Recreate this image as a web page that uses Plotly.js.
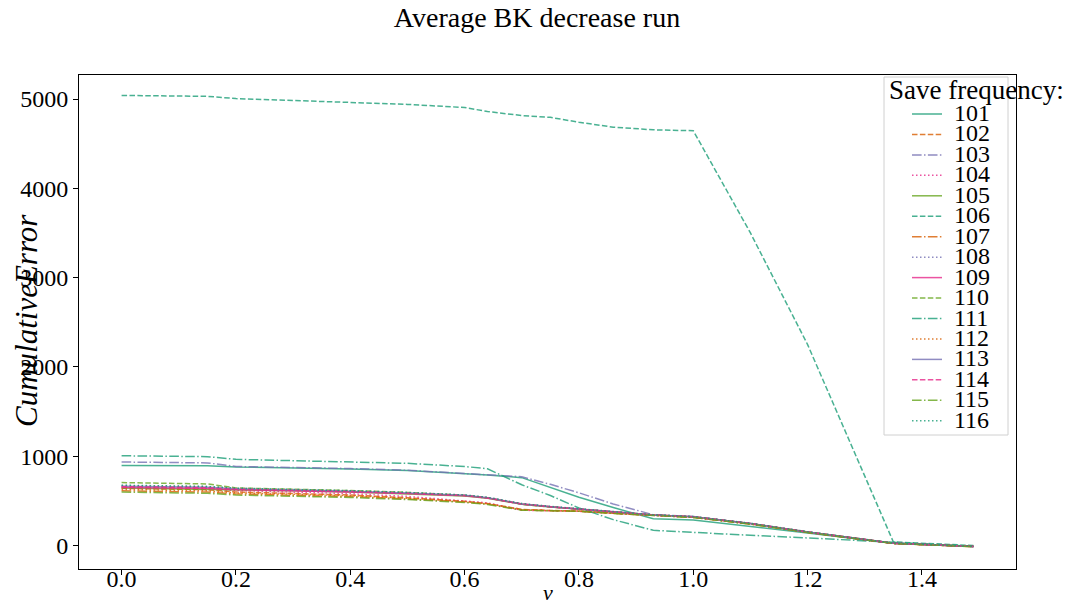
<!DOCTYPE html>
<html>
<head>
<meta charset="utf-8">
<script src="https://cdn.plot.ly/plotly-3.0.1.min.js"></script>
<style>html,body{margin:0;padding:0;background:#fff;}#chart{width:1074px;height:607px;}</style>
</head>
<body>
<div id="chart"></div>
<script>
// ---- data ----
const nu = [0, 0.15, 0.2, 0.3, 0.4, 0.5, 0.6, 0.64, 0.7, 0.75, 0.8, 0.86, 0.93, 1.0, 1.1, 1.2, 1.35, 1.49];
const saveFrequencies = ['101','102','103','104','105','106','107','108','109','110','111','112','113','114','115','116'];
const err101 = [897, 893, 880, 870, 858, 840, 805, 790, 760, 650, 540, 425, 300, 285, 215, 140, 25, -10];
const err102 = [640, 625, 600, 585, 565, 535, 495, 470, 405, 392, 386, 362, 336, 318, 242, 150, 24, -12];
const err103 = [935, 925, 885, 875, 862, 843, 808, 792, 770, 685, 590, 465, 345, 325, 245, 150, 28, -10];
const err104 = [655, 640, 615, 600, 580, 550, 500, 478, 395, 388, 383, 360, 337, 316, 243, 149, 23, -11];
const err105 = [645, 632, 622, 612, 598, 580, 555, 530, 462, 432, 406, 372, 342, 322, 247, 152, 26, -9];
const err106 = [5040, 5030, 5005, 4985, 4965, 4940, 4905, 4860, 4815, 4795, 4740, 4685, 4655, 4645, 3500, 2250, 40, 0];
const err107 = [612, 598, 578, 565, 548, 522, 488, 465, 398, 390, 384, 361, 334, 314, 240, 147, 22, -12];
const err108 = [672, 660, 640, 628, 612, 592, 565, 538, 468, 436, 408, 374, 343, 323, 248, 153, 26, -10];
const err109 = [650, 638, 625, 615, 600, 582, 558, 532, 465, 434, 407, 372, 341, 321, 246, 151, 25, -10];
const err110 = [705, 690, 645, 632, 615, 595, 562, 535, 462, 432, 405, 370, 340, 320, 245, 150, 25, -10];
const err111 = [1005, 995, 965, 950, 935, 920, 885, 860, 680, 560, 420, 290, 170, 145, 115, 85, 35, -10];
const err112 = [628, 612, 590, 575, 558, 530, 492, 468, 402, 391, 385, 361, 335, 316, 241, 149, 23, -11];
const err113 = [665, 652, 635, 624, 608, 588, 562, 535, 466, 435, 407, 373, 342, 322, 247, 152, 26, -10];
const err114 = [660, 648, 630, 620, 604, 585, 560, 533, 463, 433, 406, 371, 341, 321, 246, 151, 25, -10];
const err115 = [598, 585, 565, 555, 538, 515, 482, 460, 396, 389, 383, 360, 334, 314, 240, 147, 22, -12];
const err116 = [675, 662, 642, 630, 614, 594, 566, 540, 470, 438, 410, 375, 344, 324, 249, 154, 27, -9];
const errors = [err101, err102, err103, err104, err105, err106, err107, err108,
                err109, err110, err111, err112, err113, err114, err115, err116];

// ---- styles ----
const palette = ['#1b9e77', '#d95f02', '#7570b3', '#e7298a', '#66a61e'];
const dashes = ['solid', '5.5px,2.4px', '9.6px,2.4px,1.5px,2.4px', '1.5px,2.5px'];
const serif = '"Liberation Serif", "DejaVu Serif", serif';

const traces = saveFrequencies.map((name, i) => ({
  type: 'scatter', mode: 'lines', name: name,
  x: nu, y: errors[i],
  opacity: 0.8,
  line: {color: palette[i % 5], width: 1.5, dash: dashes[i % 4]},
  showlegend: false
}));

// ---- hand-drawn legend (matplotlib-like spacing) ----
const W = 1074, H = 607;
const L = 79, R = 1016, T = 75, B = 569;
const px2x = p => (p - L) / (R - L);
const py2y = p => (B - p) / (B - T);

const shapes = [];
const annotations = [];
shapes.push({type: 'rect', xref: 'paper', yref: 'paper',
  x0: px2x(884), x1: px2x(1008), y0: py2y(435), y1: py2y(77),
  line: {color: '#d0d0d0', width: 1}, fillcolor: 'rgba(255,255,255,0.8)', layer: 'above'});
annotations.push({xref: 'paper', yref: 'paper', x: px2x(887), y: py2y(90),
  xanchor: 'left', yanchor: 'middle', showarrow: false, text: 'Save frequency:',
  font: {family: serif, size: 27, color: '#000'}});
saveFrequencies.forEach((name, i) => {
  const yy = 114 + 20.45 * i;
  shapes.push({type: 'line', xref: 'paper', yref: 'paper',
    x0: px2x(912), x1: px2x(942), y0: py2y(yy), y1: py2y(yy),
    opacity: 0.8,
    line: {color: palette[i % 5], width: 1.5, dash: dashes[i % 4]}, layer: 'above'});
  annotations.push({xref: 'paper', yref: 'paper', x: px2x(952), y: py2y(yy - 1),
    xanchor: 'left', yanchor: 'middle', showarrow: false, text: name,
    font: {family: serif, size: 24, color: '#000'}});
});

// axis titles
annotations.push({xref: 'paper', yref: 'paper', x: px2x(548), y: py2y(592),
  xanchor: 'center', yanchor: 'middle', showarrow: false, borderpad: 0, text: '<i>ν</i>',
  font: {family: serif, size: 22, color: '#000'}});
annotations.push({xref: 'paper', yref: 'paper', x: px2x(26), y: py2y(321),
  xanchor: 'center', yanchor: 'middle', showarrow: false, textangle: -90,
  text: '<i>CumulativeError</i>',
  font: {family: serif, size: 31, color: '#000'}});

const axisCommon = {
  showline: true, mirror: true, linecolor: '#000', linewidth: 1,
  ticks: 'outside', ticklen: 5, tickwidth: 1, tickcolor: '#000',
  showgrid: false, zeroline: false,
  tickfont: {family: serif, size: 24, color: '#000'}
};

const layout = {
  width: W, height: H,
  margin: {l: L, r: W - R, t: T, b: H - B, pad: 0},
  paper_bgcolor: '#fff', plot_bgcolor: '#fff',
  title: {text: 'Average BK decrease run', x: 0.5, xref: 'container', xanchor: 'center',
          y: 1 - 17 / H, yref: 'container', yanchor: 'middle',
          font: {family: serif, size: 28, color: '#000'}},
  xaxis: Object.assign({}, axisCommon, {range: [-0.0745, 1.5645], tick0: 0, dtick: 0.2, tickformat: '.1f',
          ticklabelstandoff: -17, title: {text: ''}}),
  yaxis: Object.assign({}, axisCommon, {range: [-263, 5269], tick0: 0, dtick: 1000, tickformat: 'd',
          title: {text: ''}}),
  shapes: shapes,
  annotations: annotations,
  showlegend: false
};

Plotly.newPlot('chart', traces, layout, {displayModeBar: false, staticPlot: true});
</script>
</body>
</html>
